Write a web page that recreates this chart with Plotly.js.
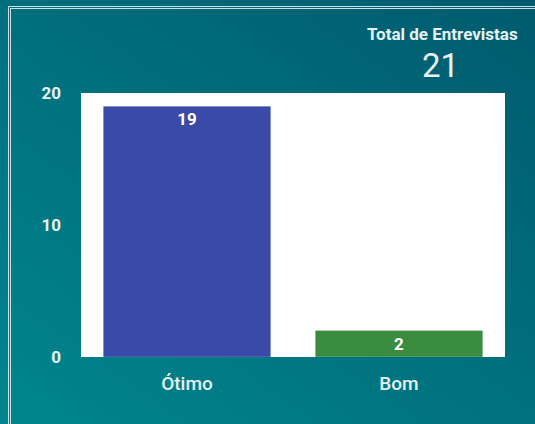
<!DOCTYPE html>
<html>
<head>
<meta charset="utf-8">
<script src="https://cdn.plot.ly/plotly-3.0.1.min.js"></script>
<style>
html,body{margin:0;padding:0;width:535px;height:424px;overflow:hidden;}
body{background:linear-gradient(35deg,#00868c 0%,#00707e 50%,#005a6e 100%);position:relative;}
#frame{position:absolute;left:8px;top:6px;width:600px;height:500px;border-left:3px double rgba(225,238,240,0.9);border-top:3px double rgba(225,238,240,0.9);box-sizing:border-box;pointer-events:none;}
#chart{position:absolute;left:0;top:0;width:535px;height:424px;}
</style>
</head>
<body>
<div id="frame"></div>
<div id="chart"></div>
<script>
const categories = ["Ótimo", "Bom"];
const values = [19, 2];
const barColors = ["#3a4aa9", "#3a8c3e"];
const totalLabel = "Total de Entrevistas";
const totalValue = "21";
const yTicks = [0, 10, 20];

const txtColor = "#e6f1f2";
const data = [{
  type: "bar",
  x: categories,
  y: values,
  marker: {color: barColors, line: {color: "rgba(255,255,255,0.25)", width: 1}},
  text: values.map(String),
  textposition: "inside",
  insidetextanchor: "end",
  textfont: {family: "Roboto", size: 17, color: "#ffffff", weight: "bold"},
  hoverinfo: "none",
  width: 0.79
}];
const layout = {
  width: 535, height: 424,
  margin: {l: 81, r: 30, t: 93, b: 67, pad: 0},
  paper_bgcolor: "rgba(0,0,0,0)",
  plot_bgcolor: "#ffffff",
  showlegend: false,
  xaxis: {
    tickfont: {family: "Roboto", size: 19, color: txtColor, weight: 500},
    showgrid: false, zeroline: false, showline: false,
    ticks: "", ticklabelstandoff: 13, fixedrange: true
  },
  yaxis: {
    range: [0, 20], tickvals: yTicks,
    tickfont: {family: "Roboto", size: 17, color: txtColor, weight: "bold"},
    showgrid: false, zeroline: false, showline: false,
    ticks: "", ticklabelstandoff: 19, fixedrange: true
  },
  annotations: [
    {text: totalLabel, xref: "paper", yref: "paper", x: 0.853, y: 1.223, xanchor: "center", yanchor: "middle", showarrow: false,
     font: {family: "Roboto", size: 17, color: txtColor, weight: "bold"}},
    {text: totalValue, xref: "paper", yref: "paper", x: 0.847, y: 1.105, xanchor: "center", yanchor: "middle", showarrow: false,
     font: {family: "Roboto", size: 33, color: txtColor}}
  ]
};
Plotly.newPlot("chart", data, layout, {displayModeBar: false, staticPlot: true});
</script>
</body>
</html>
